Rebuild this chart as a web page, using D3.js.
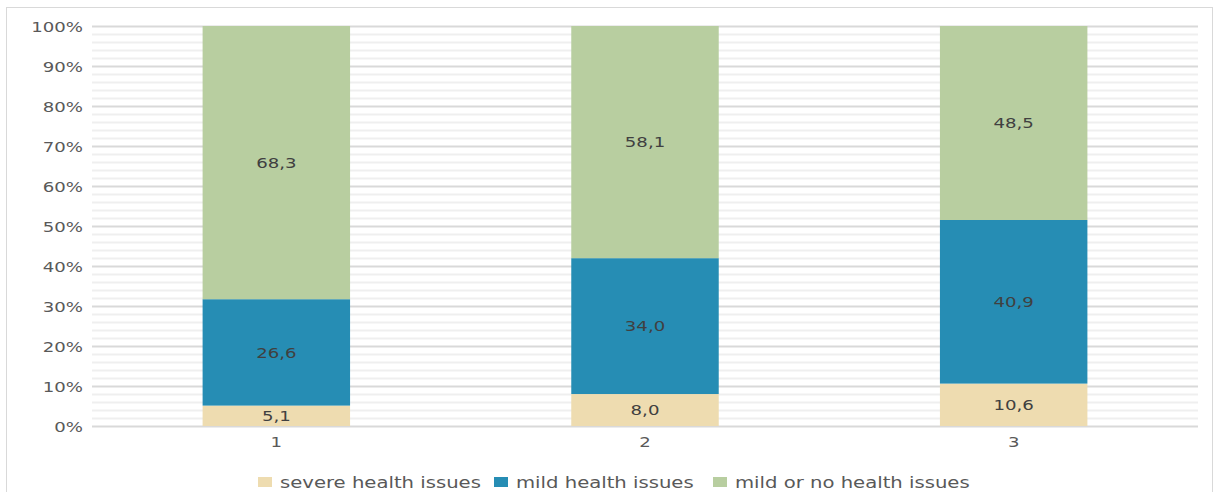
<!DOCTYPE html>
<html>
<head>
<meta charset="utf-8">
<script src="https://cdn.jsdelivr.net/npm/d3@7"></script>
<style>
  html, body { margin: 0; padding: 0; background: #fff; }
  svg { display: block; }
  text { font-family: "DejaVu Sans", Verdana, sans-serif; }
</style>
</head>
<body>
<svg id="chart" width="1214" height="492"></svg>
<script>
// Groups along the x axis
const categories = ["1", "2", "3"];
// Series (percent shares per group)
const seriesNames = ["severe health issues", "mild health issues", "mild or no health issues"];
const severe = [5.1, 8.0, 10.6];
const mild = [26.6, 34.0, 40.9];
const noneOrMild = [68.3, 58.1, 48.5];
const seriesColors = ["#eedcb0", "#268db4", "#b8cea0"];
// Y axis ticks
const yTicks = [0, 0.1, 0.2, 0.3, 0.4, 0.5, 0.6, 0.7, 0.8, 0.9, 1.0];

const rows = categories.map((c, i) => ({
  cat: c,
  [seriesNames[0]]: severe[i],
  [seriesNames[1]]: mild[i],
  [seriesNames[2]]: noneOrMild[i]
}));

const svg = d3.select("#chart");
const stretch = 1.25; // horizontal widening of glyphs

// chart frame
svg.append("rect")
  .attr("x", 6.5).attr("y", 7.5)
  .attr("width", 1206).attr("height", 500)
  .attr("fill", "#fff").attr("stroke", "#d9d9d9").attr("stroke-width", 1);

const plot = { left: 92, right: 1198, top: 26, bottom: 426 };

const x = d3.scaleBand().domain(categories).range([plot.left, plot.right]).paddingInner(0.6).paddingOuter(0.3);
const y = d3.scaleLinear().domain([0, 1]).range([plot.bottom, plot.top]);

// minor gridlines every 2%
const minor = d3.range(0, 1.0001, 0.02).filter(v => Math.abs(Math.round(v * 100) % 10) !== 0);
svg.append("g").selectAll("line").data(minor).join("line")
  .attr("x1", plot.left).attr("x2", plot.right)
  .attr("y1", d => Math.round(y(d)) + 0.5).attr("y2", d => Math.round(y(d)) + 0.5)
  .attr("stroke", "#efefef").attr("stroke-width", 2);

// major gridlines
svg.append("g").selectAll("line").data(yTicks).join("line")
  .attr("x1", plot.left).attr("x2", plot.right)
  .attr("y1", d => Math.round(y(d)) + 0.5).attr("y2", d => Math.round(y(d)) + 0.5)
  .attr("stroke", "#d9d9d9").attr("stroke-width", 2);

// y tick labels
const yAxis = d3.axisLeft(y).tickValues(yTicks).tickFormat(d3.format(".0%")).tickSize(0).tickPadding(0);
const ya = svg.append("g").attr("transform", `translate(${plot.left - 9},0)`).call(yAxis);
ya.select(".domain").remove();
ya.selectAll("text")
  .attr("font-size", 14.5).attr("fill", "#595959")
  .attr("font-family", "DejaVu Sans, sans-serif")
  .attr("x", 0).attr("dy", "0.35em")
  .attr("transform", `scale(${stretch},1)`);

// stacked bars, normalised to 100%
const stack = d3.stack().keys(seriesNames).offset(d3.stackOffsetExpand);
const stacked = stack(rows);

const layers = svg.append("g").selectAll("g").data(stacked).join("g")
  .attr("fill", (d, i) => seriesColors[i]);

layers.selectAll("rect").data(d => d).join("rect")
  .attr("x", d => x(d.data.cat))
  .attr("width", x.bandwidth())
  .attr("y", d => y(d[1]))
  .attr("height", d => y(d[0]) - y(d[1]));

// data labels
const fmt = v => d3.format(".1f")(v).replace(".", ",");
layers.each(function (layer) {
  d3.select(this).selectAll("g.lbl").data(layer).join("g")
    .attr("class", "lbl")
    .attr("transform", d => `translate(${x(d.data.cat) + x.bandwidth() / 2},${(y(d[0]) + y(d[1])) / 2}) scale(${stretch},1)`)
    .append("text")
    .attr("text-anchor", "middle").attr("dy", "0.36em")
    .attr("font-size", 14.5).attr("fill", "#404040")
    .text(d => fmt(d.data[layer.key]));
});

// x axis labels
const xAxis = d3.axisBottom(x).tickSize(0).tickPadding(0);
const xa = svg.append("g").attr("transform", `translate(0,${plot.bottom})`).call(xAxis);
xa.select(".domain").remove();
xa.selectAll(".tick text")
  .attr("font-size", 14.5).attr("fill", "#595959")
  .attr("y", 21).attr("dy", 0)
  .attr("transform", `scale(${stretch},1)`)
  .attr("x", 0);

// legend
const legendItems = [
  { name: seriesNames[0], color: seriesColors[0], sx: 258 },
  { name: seriesNames[1], color: seriesColors[1], sx: 494 },
  { name: seriesNames[2], color: seriesColors[2], sx: 713 }
];
const lg = svg.append("g");
legendItems.forEach(it => {
  lg.append("rect").attr("x", it.sx).attr("y", 477).attr("width", 14).attr("height", 10).attr("fill", it.color);
  lg.append("g").attr("transform", `translate(${it.sx + 22},487.5) scale(${stretch},1)`)
    .append("text").attr("font-size", 15.7).attr("fill", "#595959").text(it.name);
});
</script>
</body>
</html>
